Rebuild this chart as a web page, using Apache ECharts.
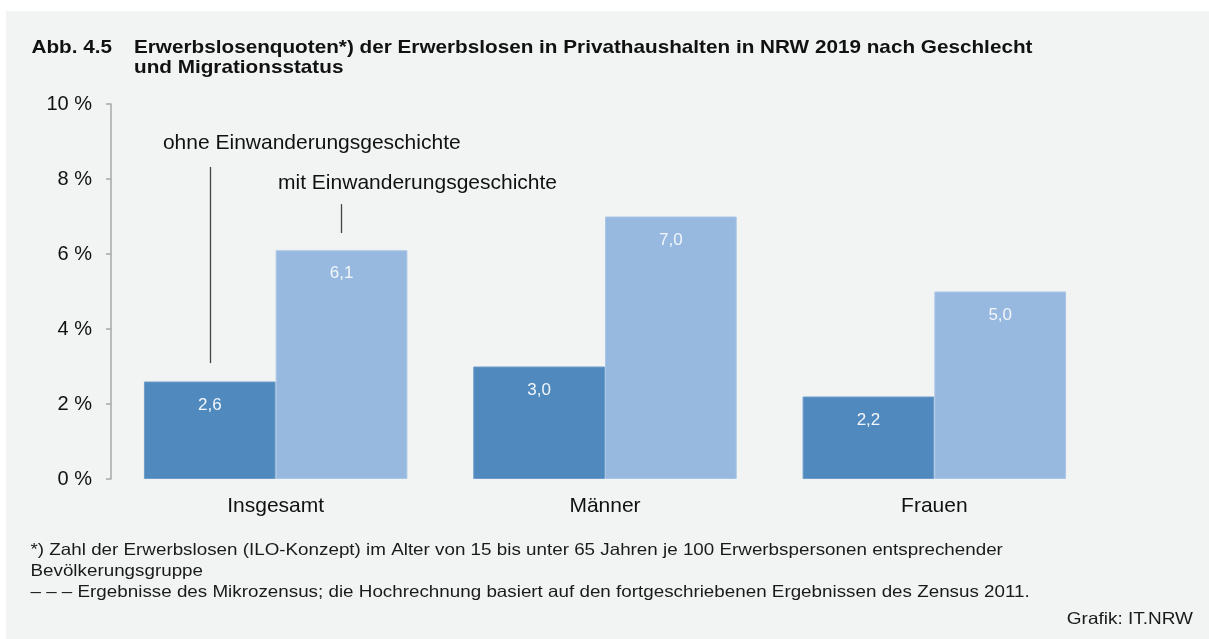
<!DOCTYPE html>
<html>
<head>
<meta charset="utf-8">
<script src="https://cdn.jsdelivr.net/npm/echarts@6/dist/echarts.min.js"></script>
<style>
  html, body { margin: 0; padding: 0; background: #fff; }
  #root { width: 1209px; height: 639px; }
</style>
</head>
<body>
<div id="root"></div>
<script>
// categories and values
var categories = ['Insgesamt', 'Männer', 'Frauen']
var ohneValues = [2.6, 3.0, 2.2]
var mitValues = [6.1, 7.0, 5.0]
var seriesNames = ['ohne Einwanderungsgeschichte', 'mit Einwanderungsgeschichte']
var yTicks = [0, 2, 4, 6, 8, 10]

var titleText = 'Erwerbslosenquoten*) der Erwerbslosen in Privathaushalten in NRW 2019 nach Geschlecht\nund Migrationsstatus'
var footnotes = [
  '*) Zahl der Erwerbslosen (ILO-Konzept) im Alter von 15 bis unter 65 Jahren je 100 Erwerbspersonen entsprechender',
  'Bevölkerungsgruppe',
  '\u2013 \u2013 \u2013 Ergebnisse des Mikrozensus; die Hochrechnung basiert auf den fortgeschriebenen Ergebnissen des Zensus 2011.'
]

var font = '"Liberation Sans", Arial, sans-serif'
var fmt = function (v) { return v.toFixed(1).replace('.', ',') }

var chart = echarts.init(document.getElementById('root'))

var barLabel = {
  show: true,
  position: 'insideTop',
  distance: 15,
  color: '#f2f6fb',
  fontSize: 17,
  fontFamily: font,
  formatter: function (p) { return fmt(p.value) }
}

var option = {
  backgroundColor: '#ffffff',
  animation: false,
  textStyle: { fontFamily: font },
  graphic: [
    {
      type: 'rect', left: 6, top: 11, z: -10,
      shape: { width: 1203, height: 628 },
      style: { fill: '#f2f3f3' }
    },
    {
      type: 'text', x: 31.5, y: 37.5, scaleX: 1.09,
      style: { text: 'Abb. 4.5', font: 'bold 19px ' + font, fill: '#111', lineHeight: 20, verticalAlign: 'top' }
    },
    {
      type: 'text', x: 134, y: 37.5, scaleX: 1.09,
      style: { text: titleText, font: 'bold 19px ' + font, fill: '#111', lineHeight: 20, verticalAlign: 'top' }
    },
    {
      type: 'text', x: 30.5, y: 540, scaleX: 1.14,
      style: { text: footnotes.join('\n'), font: '16.5px ' + font, fill: '#1a1a1a', lineHeight: 21, verticalAlign: 'top' }
    },
    {
      type: 'text', x: 1193, y: 609, scaleX: 1.15,
      style: { text: 'Grafik: IT.NRW', font: '16.5px ' + font, fill: '#1a1a1a', lineHeight: 21, verticalAlign: 'top', align: 'right' }
    }
  ],
  grid: { left: 111, right: 110, top: 104, bottom: 160, containLabel: false },
  xAxis: {
    type: 'category',
    data: categories,
    axisLine: { show: false },
    axisTick: { show: false },
    axisLabel: { color: '#111', fontSize: 21, margin: 17, fontFamily: font }
  },
  yAxis: {
    type: 'value',
    min: yTicks[0],
    max: yTicks[yTicks.length - 1],
    interval: 2,
    splitLine: { show: false },
    axisLine: { show: true, lineStyle: { color: '#a8a8a8', width: 1.5 } },
    axisTick: { show: true, length: 5, lineStyle: { color: '#a8a8a8', width: 1.5 } },
    axisLabel: { color: '#111', fontSize: 20, margin: 19, fontFamily: font, formatter: '{value} %' }
  },
  series: [
    {
      name: seriesNames[0],
      type: 'bar',
      data: ohneValues,
      barGap: '0%',
      barCategoryGap: '20%',
      itemStyle: { color: '#5089be', borderColor: '#6d9dca', borderWidth: 1 },
      label: barLabel,
      markLine: {
        silent: true,
        symbol: 'none',
        label: { show: false },
        lineStyle: { color: '#444', width: 1.3, type: 'solid' },
        data: [[{ coord: [categories[0], 3.09] }, { coord: [categories[0], 8.32] }]]
      },
      markPoint: {
        silent: true,
        symbolSize: 0,
        data: [{ coord: [categories[0], 8.32] }],
        label: {
          show: true, position: 'inside', offset: [102, -24],
          color: '#111', fontSize: 21, fontFamily: font,
          formatter: seriesNames[0]
        }
      }
    },
    {
      name: seriesNames[1],
      type: 'bar',
      data: mitValues,
      barGap: '0%',
      barCategoryGap: '20%',
      itemStyle: { color: '#98b9df', borderColor: '#aac6e6', borderWidth: 1 },
      label: barLabel,
      markLine: {
        silent: true,
        symbol: 'none',
        label: { show: false },
        lineStyle: { color: '#444', width: 1.3, type: 'solid' },
        data: [[{ coord: [categories[0], 6.56] }, { coord: [categories[0], 7.33] }]]
      },
      markPoint: {
        silent: true,
        symbolSize: 0,
        data: [{ coord: [categories[0], 7.33] }],
        label: {
          show: true, position: 'inside', offset: [76, -21],
          color: '#111', fontSize: 21, fontFamily: font,
          formatter: seriesNames[1]
        }
      }
    }
  ]
}

chart.setOption(option)
</script>
</body>
</html>
